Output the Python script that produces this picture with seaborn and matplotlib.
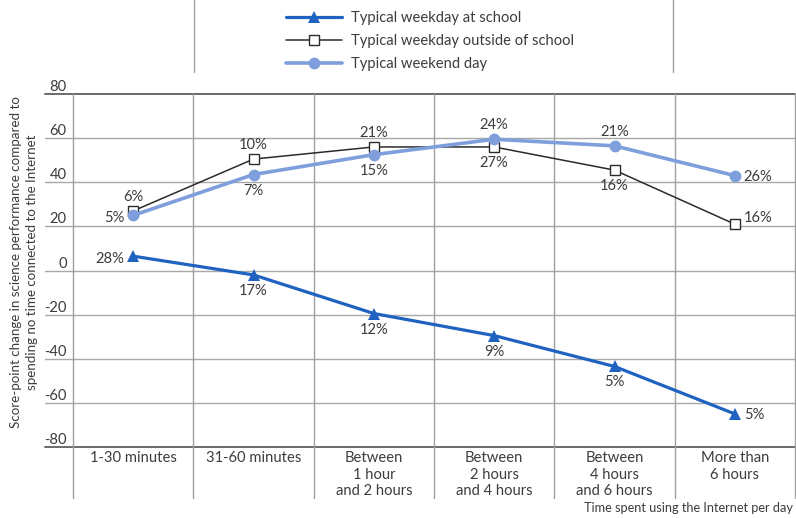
import matplotlib
matplotlib.use("Agg")
import matplotlib.pyplot as plt
import matplotlib.transforms as mtrans
import seaborn as sns
import pandas as pd

categories = ["1-30 minutes", "31-60 minutes", "Between\n1 hour\nand 2 hours",
              "Between\n2 hours\nand 4 hours", "Between\n4 hours\nand 6 hours",
              "More than\n6 hours"]
school = [6.5, -2, -19.5, -29.5, -43.5, -65]
outside = [27, 50.5, 56, 56, 45.5, 21]
weekend = [25, 43.5, 52.5, 59.5, 56.5, 43]
school_pct = ["28%", "17%", "12%", "9%", "5%", "5%"]
outside_pct = ["6%", "10%", "21%", "27%", "16%", "16%"]
weekend_pct = ["5%", "7%", "15%", "24%", "21%", "26%"]
series_names = ["Typical weekday at school", "Typical weekday outside of school",
                "Typical weekend day"]
yticks = [-80, -60, -40, -20, 0, 20, 40, 60, 80]

sns.set_theme(style="white")
plt.rcParams['font.family'] = ['Lato', 'DejaVu Sans']
plt.rcParams['font.weight'] = 'normal'
txt = "#3c3c3c"
fs = 10.6

fig = plt.figure(figsize=(7.96, 5.18), dpi=100)
ax = fig.add_axes([73/796, 1-447/518, (795-73)/796, (447-94)/518])

df_s = pd.DataFrame({"cat": categories, "val": school})
df_o = pd.DataFrame({"cat": categories, "val": outside})
df_w = pd.DataFrame({"cat": categories, "val": weekend})

sns.lineplot(data=df_s, x="cat", y="val", ax=ax, color="#1f62c0", lw=2.3,
             marker="^", markersize=9, markeredgewidth=0, sort=False,
             label=series_names[0], zorder=5)
sns.lineplot(data=df_o, x="cat", y="val", ax=ax, color="#2b2b2b", lw=1.1,
             marker="s", markersize=7.5, markerfacecolor="white",
             markeredgecolor="#2b2b2b", markeredgewidth=1.0, sort=False,
             label=series_names[1], zorder=5)
sns.lineplot(data=df_w, x="cat", y="val", ax=ax, color="#7f9fdc", lw=2.6,
             marker="o", markersize=8.5, markeredgewidth=0, sort=False,
             label=series_names[2], zorder=6)

ax.set_xlim(-0.5, 5.5)
ax.set_ylim(-80, 80)
for s in ax.spines.values():
    s.set_visible(False)
ax.grid(False)

# horizontal gridlines (extend left under tick labels)
ext = (73-45)/722
for y in yticks:
    strong = y in (80, -80)
    ax.axhline(y, xmin=-ext, xmax=1.0, clip_on=False,
               color="#6a6a6a" if strong else "#a8a8a8",
               lw=1.4 if strong else 1.0, zorder=1)

# vertical column separators, extended below the plot
trans = mtrans.blended_transform_factory(ax.transData, ax.transAxes)
below = (498-447)/353
for i in range(len(categories)+1):
    ax.plot([i-0.5, i-0.5], [-below, 1.0], transform=trans, clip_on=False,
            color="#a0a0a0", lw=1.0, zorder=1)
# small separators above the plot (top panel)
ftr = fig.transFigure
for xp in (194, 673):
    fig.add_artist(plt.Line2D([xp/796, xp/796], [1.0, 1-72/518],
                              transform=ftr, color="#a0a0a0", lw=1.0))

ax.set_yticks(yticks)
ax.set_yticklabels([str(v) for v in yticks])
for lab in ax.get_yticklabels():
    lab.set_va("bottom")
ax.tick_params(axis="y", length=0, pad=4.5, labelsize=fs, labelcolor=txt)
ax.tick_params(axis="x", length=0, pad=3.0, labelsize=fs, labelcolor=txt)
for lab in ax.get_xticklabels():
    lab.set_linespacing(1.22)
ax.set_xlabel("")
ax.set_ylabel("")

ax.text(-0.068, 0.524,
        "Score-point change in science performance compared to\nspending no time connected to the Internet",
        transform=ax.transAxes, rotation=90, ha="center", va="center",
        fontsize=9.6, color=txt, linespacing=1.4)
fig.text(793/796, 1-508/518, "Time spent using the Internet per day",
         ha="right", va="center", fontsize=9.2, color=txt)

# value labels
def lab(x, y, s, pos):
    offs = {"left": (-9, -3, "right", "center"),
            "below": (0, -16, "center", "center"),
            "above": (0, 14, "center", "center"),
            "right": (9, -1, "left", "center"),
            "right_up": (9, 6, "left", "center")}
    dx, dy, ha, va = offs[pos]
    ax.annotate(s, (x, y), xytext=(dx, dy), textcoords="offset pixels",
                ha=ha, va=va, fontsize=fs, color=txt, zorder=7)

school_pos = ["left", "below", "below", "below", "below", "right"]
outside_pos = ["above", "above", "above", "below", "below", "right_up"]
weekend_pos = ["left", "below", "below", "above", "above", "right"]
for i in range(len(categories)):
    lab(i, school[i], school_pct[i], school_pos[i])
    lab(i, outside[i], outside_pct[i], outside_pos[i])
    lab(i, weekend[i], weekend_pct[i], weekend_pos[i])

leg = ax.legend(loc="upper left", bbox_to_anchor=(286/796, 1-11/518),
                bbox_transform=fig.transFigure, frameon=False, fontsize=fs,
                handlelength=3.8, handletextpad=0.6, labelspacing=0.62,
                borderpad=0, borderaxespad=0)
for t in leg.get_texts():
    t.set_color(txt)

fig.savefig("out.png", dpi=100)
